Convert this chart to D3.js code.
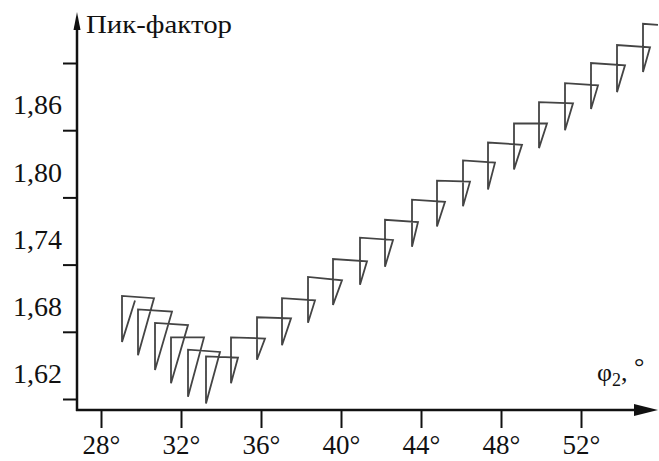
<!DOCTYPE html>
<html>
<head>
<meta charset="utf-8">
<script src="https://cdn.jsdelivr.net/npm/d3@7"></script>
<style>
  html, body { margin: 0; padding: 0; background: #fff; }
  svg text { font-family: "Liberation Serif", "Times New Roman", serif; fill: #111; }
</style>
</head>
<body>
<svg id="chart" width="659" height="461"></svg>
<script>
// step points: jump (vertical), top of jump, end of the flat part
const startPhi = 29.70, startK = 1.688;
const jumpPhi = [29.05, 29.85, 30.70, 31.50, 32.35, 33.25, 34.50, 35.80, 37.05, 38.35, 39.60, 40.95,
                 42.20, 43.55, 44.80, 46.10, 47.35, 48.65, 49.90, 51.20, 52.50, 53.80, 55.10];
const lowK = [1.651, 1.639, 1.626, 1.614, 1.602, 1.596, 1.614, 1.635, 1.648, 1.668, 1.684, 1.702,
              1.718, 1.736, 1.754, 1.772, 1.787, 1.805, 1.824, 1.840, 1.859, 1.874, 1.892];
const highK = [1.692, 1.680, 1.668, 1.655, 1.644, 1.638, 1.655, 1.673, 1.690, 1.709, 1.725, 1.744,
               1.760, 1.778, 1.795, 1.813, 1.829, 1.846, 1.865, 1.882, 1.900, 1.916, 1.935];
const endPhi = [30.65, 31.55, 32.35, 33.15, 33.95, 34.85, 36.20, 37.50, 38.70, 40.05, 41.30, 42.60,
                43.85, 45.20, 46.45, 47.70, 49.05, 50.30, 51.60, 52.85, 54.20, 55.45, 55.85];
const endK = [1.690, 1.678, 1.666, 1.655, 1.642, 1.637, 1.654, 1.672, 1.688, 1.706, 1.723, 1.742,
              1.758, 1.776, 1.794, 1.811, 1.827, 1.846, 1.864, 1.880, 1.898, 1.914, 1.934];

const xTicks = [28, 32, 36, 40, 44, 48, 52];
const yTickMarks = [1.60, 1.66, 1.72, 1.78, 1.84, 1.90];
const yLabels = [1.62, 1.68, 1.74, 1.80, 1.86];

const svg = d3.select("#chart");
const AX = 77, AY = 410;
const x = d3.scaleLinear().domain([28, 52]).range([101, 581]);
const y = d3.scaleLinear().domain([1.60, 1.90]).range([399, 63]);

// curve
const pts = [[startPhi, startK]];
jumpPhi.forEach((p, i) => {
  pts.push([p, lowK[i]]);
  pts.push([p, highK[i]]);
  pts.push([endPhi[i], endK[i]]);
});
const line = d3.line().x(d => x(d[0])).y(d => y(d[1]));
svg.append("path").attr("d", line(pts))
  .attr("fill", "none").attr("stroke", "#444").attr("stroke-width", 1.8)
  .attr("stroke-linejoin", "miter");

// x axis
const xa = svg.append("g").attr("transform", `translate(0,${AY})`)
  .call(d3.axisBottom(x).tickValues(xTicks).tickSize(18).tickFormat(d => d + "°"));
xa.select(".domain").remove();
xa.selectAll(".tick line").attr("stroke", "#111").attr("stroke-width", 2);
xa.selectAll(".tick text").attr("font-size", 27).attr("y", 44).attr("dy", null)
  .attr("font-family", "Liberation Serif, serif").attr("fill", "#111");

// y axis ticks and labels
const ya = svg.append("g").attr("transform", `translate(${AX},0)`)
  .call(d3.axisLeft(y).tickValues(yTickMarks).tickSize(14).tickFormat(""));
ya.select(".domain").remove();
ya.selectAll(".tick line").attr("stroke", "#111").attr("stroke-width", 2);
const yl = svg.append("g").attr("transform", `translate(${AX},0)`)
  .call(d3.axisLeft(y).tickValues(yLabels).tickSize(0).tickPadding(15)
    .tickFormat(d => d.toFixed(2).replace(".", ",")));
yl.select(".domain").remove();
yl.selectAll(".tick text").attr("font-size", 28).attr("dy", "0.22em")
  .attr("font-family", "Liberation Serif, serif").attr("fill", "#111");

// axis lines with arrows
svg.append("line").attr("x1", AX).attr("y1", AY + 1).attr("x2", AX).attr("y2", 24)
  .attr("stroke", "#111").attr("stroke-width", 2.5);
svg.append("line").attr("x1", AX - 1).attr("y1", AY).attr("x2", 640).attr("y2", AY)
  .attr("stroke", "#111").attr("stroke-width", 2.5);
svg.append("path").attr("d", `M${AX},12 L${AX - 3.5},30 L${AX + 3.5},30 Z`).attr("fill", "#111");
svg.append("path").attr("d", `M658,${AY} L634,${AY - 6} L634,${AY + 6} Z`).attr("fill", "#111");

// titles
svg.append("text").attr("x", 86).attr("y", 33).attr("font-size", 26)
  .attr("textLength", 146).attr("lengthAdjust", "spacingAndGlyphs").text("Пик-фактор");
const xt = svg.append("text").attr("x", 597).attr("y", 381).attr("font-size", 26);
xt.append("tspan").text("φ");
xt.append("tspan").attr("font-size", 18).attr("dy", 5).text("2");
xt.append("tspan").attr("dy", -5).text(",  ");
xt.append("tspan").attr("dy", -6).text("°");
</script>
</body>
</html>
